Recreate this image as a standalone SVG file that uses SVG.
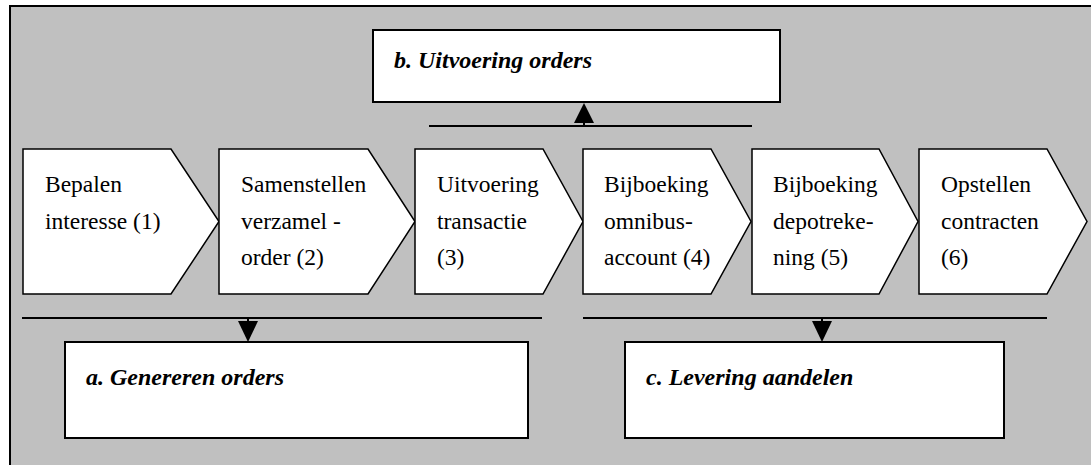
<svg xmlns="http://www.w3.org/2000/svg" width="1091" height="465" viewBox="0 0 1091 465">
<style>
.frame{fill:#c0c0c0;stroke:#000;stroke-width:2}
.box{fill:#fff;stroke:#000;stroke-width:2}
.step{fill:#fff;stroke:#000;stroke-width:1.5;stroke-linejoin:miter}
.t{font-family:'Liberation Serif',Tinos,'Times New Roman',Times,'Noto Serif','DejaVu Serif',serif;font-size:23.5px;fill:#000}
.h{font-family:'Liberation Serif',Tinos,'Times New Roman',Times,'Noto Serif','DejaVu Serif',serif;font-size:24px;font-weight:bold;font-style:italic;fill:#000}
.ln{stroke:#000;stroke-width:2;fill:none}
.ah{fill:#000}
</style>
<rect class="frame" x="10" y="6" width="1100" height="480"/>
<g id="node-b"><rect class="box" x="373" y="30" width="407" height="72"/><text class="h" x="394" y="68">b. Uitvoering orders</text></g>
<g id="node-1"><path class="step" d="M23,149 H171 L219,221.5 L171,294 H23 Z"/><text class="t" x="45" y="192">Bepalen</text><text class="t" x="45" y="229">interesse (1)</text></g>
<g id="node-2"><path class="step" d="M219,149 H368 L415,221.5 L368,294 H219 Z"/><text class="t" x="241" y="192">Samenstellen</text><text class="t" x="241" y="229">verzamel -</text><text class="t" x="241" y="265">order (2)</text></g>
<g id="node-3"><path class="step" d="M415,149 H543 L583,221.5 L543,294 H415 Z"/><text class="t" x="437" y="192">Uitvoering</text><text class="t" x="437" y="229">transactie</text><text class="t" x="437" y="265">(3)</text></g>
<g id="node-4"><path class="step" d="M583,149 H711 L751,221.5 L711,294 H583 Z"/><text class="t" x="604" y="192">Bijboeking</text><text class="t" x="604" y="229">omnibus-</text><text class="t" x="604" y="265">account (4)</text></g>
<g id="node-5"><path class="step" d="M752,149 H879 L918,221.5 L879,294 H752 Z"/><text class="t" x="773" y="192">Bijboeking</text><text class="t" x="773" y="229">depotreke-</text><text class="t" x="773" y="265">ning (5)</text></g>
<g id="node-6"><path class="step" d="M919,149 H1047 L1087,221.5 L1047,294 H919 Z"/><text class="t" x="941" y="192">Opstellen</text><text class="t" x="941" y="229">contracten</text><text class="t" x="941" y="265">(6)</text></g>
<g id="node-a"><rect class="box" x="65" y="342" width="463" height="96"/><text class="h" x="86" y="385">a. Genereren orders</text></g>
<g id="node-c"><rect class="box" x="625" y="342" width="379" height="96"/><text class="h" x="646" y="385">c. Levering aandelen</text></g>
<g id="connectors">
<line class="ln" x1="429" y1="126" x2="752" y2="126"/>
<line class="ln" x1="584" y1="126" x2="584" y2="120"/>
<polygon class="ah" points="584,103 574,123 594,123"/>
<line class="ln" x1="22" y1="318" x2="542" y2="318"/>
<line class="ln" x1="248" y1="318" x2="248" y2="323"/>
<polygon class="ah" points="238,321 258,321 248,342"/>
<line class="ln" x1="583" y1="318" x2="1047" y2="318"/>
<line class="ln" x1="822" y1="318" x2="822" y2="323"/>
<polygon class="ah" points="812,321 832,321 822,342"/>
</g>
</svg>
